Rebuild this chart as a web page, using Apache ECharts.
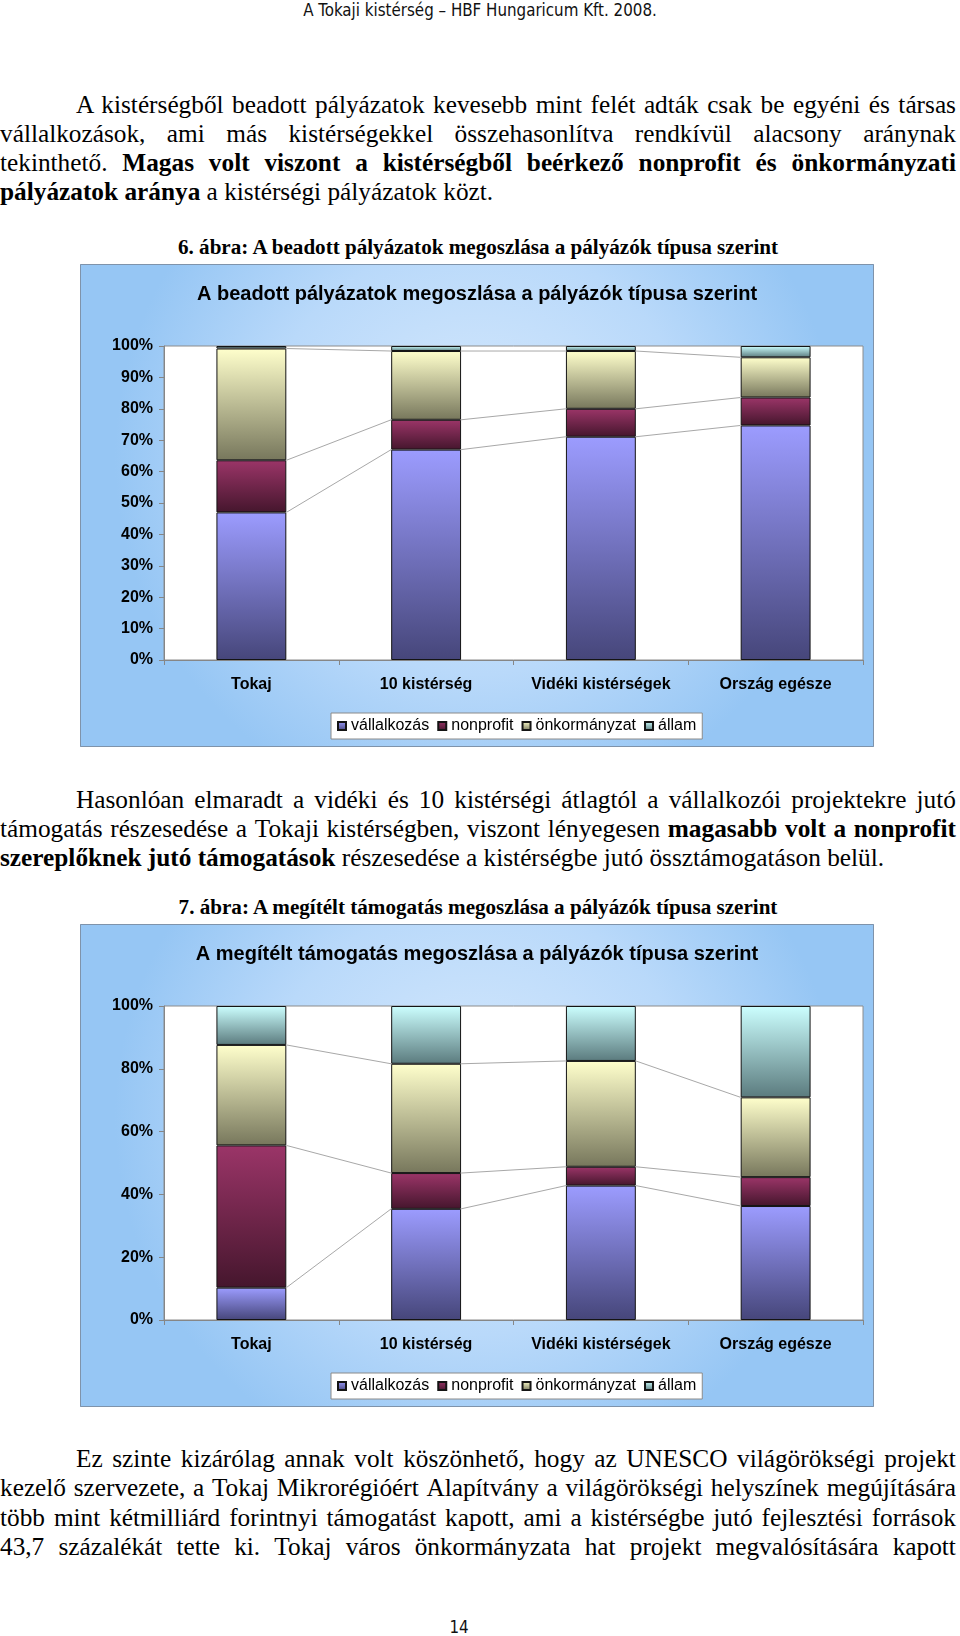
<!DOCTYPE html>
<html><head><meta charset="utf-8">
<script src="https://cdn.jsdelivr.net/npm/echarts/dist/echarts.min.js"></script>
<style>
html,body{margin:0;padding:0;background:#fff;}
#page{position:relative;width:960px;height:1636px;overflow:hidden;background:#fff;color:#000;}
.line{position:absolute;height:29.2px;line-height:29.2px;font-family:"Liberation Serif","Times New Roman",serif;font-size:25.3px;white-space:nowrap;}
.line span{white-space:pre;}
.cap{position:absolute;left:0;width:956px;text-align:center;font-family:"Liberation Serif","Times New Roman",serif;font-weight:bold;font-size:21.1px;height:26px;line-height:26px;white-space:nowrap;}
.hdr{position:absolute;left:0;width:960px;text-align:center;font-family:"DejaVu Sans Condensed","DejaVu Sans",sans-serif;font-size:16.8px;height:20px;line-height:20px;color:#111;white-space:nowrap;}
.chart{position:absolute;left:80px;width:794px;height:483px;}
</style>
</head><body>
<div id="page">
  <div class="hdr" id="hdr" style="top:0px;">A Tokaji kistérség – HBF Hungaricum Kft. 2008.</div>
  <div class="cap" style="top:234px;">6. ábra: A beadott pályázatok megoszlása a pályázók típusa szerint</div>
  <div class="chart" id="c1" style="top:264px;"></div>
  <div class="cap" style="top:894px;">7. ábra: A megítélt támogatás megoszlása a pályázók típusa szerint</div>
  <div class="chart" id="c2" style="top:924px;"></div>
  <div class="hdr" style="top:1617px;left:-21px;">14</div>
</div>
<script>
// ---------- chart data ----------
const categories = ['Tokaj', '10 kistérség', 'Vidéki kistérségek', 'Ország egésze'];
const seriesNames = ['vállalkozás', 'nonprofit', 'önkormányzat', 'állam'];

// 6. ábra – beadott pályázatok (%)
const beadottVallalkozas = [47.0, 67.0, 71.1, 74.7];
const beadottNonprofit   = [16.6, 9.5, 8.9, 8.9];
const beadottOnkormanyzat = [35.6, 21.9, 18.4, 12.8];
const beadottAllam       = [0.8, 1.6, 1.6, 3.6];

// 7. ábra – megítélt támogatás (%)
const megiteltVallalkozas = [10.3, 35.4, 42.8, 36.3];
const megiteltNonprofit   = [45.3, 11.4, 6.0, 9.2];
const megiteltOnkormanyzat = [32.0, 34.8, 33.7, 25.4];
const megiteltAllam       = [12.4, 18.4, 17.5, 29.1];

const chart1Title = 'A beadott pályázatok megoszlása a pályázók típusa szerint';
const chart2Title = 'A megítélt támogatás megoszlása a pályázók típusa szerint';
const chart1Interval = 10;
const chart2Interval = 20;

// ---------- text ----------
const LH = 29.2;
const textLines = [
  {y:104.3, indent:76, just:true, segs:[['A kistérségből beadott pályázatok kevesebb mint felét adták csak be egyéni és társas',0]]},
  {y:133.6, just:true, segs:[['vállalkozások, ami más kistérségekkel összehasonlítva rendkívül alacsony aránynak',0]]},
  {y:162.8, just:true, segs:[['tekinthető.',0],['Magas volt viszont a kistérségből beérkező nonprofit és önkormányzati',1]]},
  {y:192.0, segs:[['pályázatok aránya',1],[' a kistérségi pályázatok közt.',0]]},
  {y:799.3, indent:76, just:true, segs:[['Hasonlóan elmaradt a vidéki és 10 kistérségi átlagtól a vállalkozói projektekre jutó',0]]},
  {y:828.5, just:true, segs:[['támogatás részesedése a Tokaji kistérségben, viszont lényegesen',0],['magasabb volt a nonprofit',1]]},
  {y:857.7, segs:[['szereplőknek jutó támogatások',1],[' részesedése a kistérségbe jutó össztámogatáson belül.',0]]},
  {y:1458.8, indent:76, just:true, segs:[['Ez szinte kizárólag annak volt köszönhető, hogy az UNESCO világörökségi projekt',0]]},
  {y:1488.0, just:true, segs:[['kezelő szervezete, a Tokaj Mikrorégióért Alapítvány a világörökségi helyszínek megújítására',0]]},
  {y:1517.2, just:true, segs:[['több mint kétmilliárd forintnyi támogatást kapott, ami a kistérségbe jutó fejlesztési források',0]]},
  {y:1546.5, just:true, segs:[['43,7 százalékát tette ki. Tokaj város önkormányzata hat projekt megvalósítására kapott',0]]}
];

const page = document.getElementById('page');
function makeLine(def){
  const ind = def.indent || 0;
  const W = 956 - ind;
  const div = document.createElement('div');
  div.className = 'line';
  div.style.top = (def.y - LH/2) + 'px';
  div.style.left = ind + 'px';
  div.style.width = W + 'px';
  if (def.just){
    div.style.display = 'flex';
    div.style.justifyContent = 'space-between';
    const words = [];
    def.segs.forEach(([t,b]) => t.split(' ').filter(Boolean).forEach(w => words.push([w,b])));
    words.forEach(([w,b],k) => {
      const s = document.createElement('span');
      s.textContent = w + (k < words.length-1 ? ' ' : '');
      if (b) s.style.fontWeight = 'bold';
      div.appendChild(s);
    });
    page.appendChild(div);
    let sum = 0;
    [...div.children].forEach(c => sum += c.getBoundingClientRect().width);
    if (sum > W) div.style.fontSize = (25.3 * W / sum) + 'px';
  } else {
    def.segs.forEach(([t,b]) => {
      const s = document.createElement('span');
      s.textContent = t;
      if (b) s.style.fontWeight = 'bold';
      div.appendChild(s);
    });
    page.appendChild(div);
  }
}
textLines.forEach(makeLine);

// ---------- charts ----------
function grad(top, bottom){
  return {type:'linear', x:0, y:0, x2:0, y2:1, colorStops:[{offset:0,color:top},{offset:1,color:bottom}]};
}
const seriesColors = [
  grad('#9c9cff', '#46467a'),
  grad('#9b3568', '#45162d'),
  grad('#ffffcc', '#77775c'),
  grad('#ccffff', '#5b7b7e')
];

function buildOption(title, stacks, interval){
  const series = stacks.map((vals, s) => ({
    name: seriesNames[s],
    type: 'bar',
    stack: 'total',
    barWidth: '40%',
    data: vals,
    itemStyle: {color: seriesColors[s], borderColor: '#141414', borderWidth: 1},
    emphasis: {disabled: true},
    z: 3
  }));
  // series lines (Excel-style connectors between bars)
  const cum = [];
  let run = categories.map(() => 0);
  for (let s = 0; s < stacks.length - 1; s++){
    run = run.map((v,i) => v + stacks[s][i]);
    cum.push(run.slice());
  }
  const lineData = [];
  for (let i = 0; i < categories.length - 1; i++)
    for (let l = 0; l < cum.length; l++)
      lineData.push([i, cum[l][i], i+1, cum[l][i+1]]);
  series.push({
    type: 'custom',
    silent: true,
    z: 2,
    data: lineData,
    encode: {x: [0,2], y: [1,3]},
    renderItem: function(params, api){
      const p1 = api.coord([api.value(0), api.value(1)]);
      const p2 = api.coord([api.value(2), api.value(3)]);
      const hw = api.size([1, 0])[0] * 0.4 / 2;
      return {type:'line', shape:{x1:p1[0]+hw, y1:p1[1], x2:p2[0]-hw, y2:p2[1]},
              style:{stroke:'#a8a8a8', lineWidth:1}};
    }
  });
  return {
    animation: false,
    backgroundColor: {type:'radial', x:0.5, y:0.4, r:0.75,
      colorStops:[{offset:0,color:'#d8eafd'},{offset:0.6,color:'#b9d9fa'},{offset:1,color:'#96c6f4'}]},
    graphic: [{type:'rect', silent:true, z:-1,
      shape:{x:0.5, y:0.5, width:793, height:482},
      style:{fill:null, stroke:'#7f93aa', lineWidth:1}}],
    title: {
      text: title, left: 'center', top: 15,
      textStyle: {fontFamily:'Liberation Sans, Arial, sans-serif', fontWeight:'bold', fontSize:20, color:'#000'}
    },
    legend: {
      data: seriesNames,
      left: 251, top: 449,
      icon: 'rect', itemWidth: 8, itemHeight: 8, itemGap: 8,
      padding: [5, 6],
      backgroundColor: '#fff', borderColor: '#8a8a8a', borderWidth: 1,
      textStyle: {fontFamily:'Liberation Sans, Arial, sans-serif', fontSize:16, color:'#000'},
      selectedMode: false
    },
    grid: {left:84, top:82, width:699, height:314, show:true, backgroundColor:'#fff', borderColor:'#8c8c8c', borderWidth:1},
    xAxis: {
      type: 'category', data: categories,
      axisLine: {show:true, lineStyle:{color:'#868686'}},
      axisTick: {show:true, length:5, lineStyle:{color:'#868686'}},
      axisLabel: {interval:0, fontFamily:'Liberation Sans, Arial, sans-serif', fontWeight:'bold', fontSize:16, color:'#000', margin:17}
    },
    yAxis: {
      type: 'value', min: 0, max: 100, interval: interval,
      axisLine: {show:true, lineStyle:{color:'#868686'}},
      axisTick: {show:true, length:5, lineStyle:{color:'#868686'}},
      splitLine: {show:false},
      axisLabel: {formatter:'{value}%', fontFamily:'Liberation Sans, Arial, sans-serif', fontWeight:'bold', fontSize:16, color:'#000', margin:11}
    },
    series: series
  };
}

const c1 = echarts.init(document.getElementById('c1'), null, {renderer:'canvas'});
c1.setOption(buildOption(chart1Title, [beadottVallalkozas, beadottNonprofit, beadottOnkormanyzat, beadottAllam], chart1Interval));
const c2 = echarts.init(document.getElementById('c2'), null, {renderer:'canvas'});
c2.setOption(buildOption(chart2Title, [megiteltVallalkozas, megiteltNonprofit, megiteltOnkormanyzat, megiteltAllam], chart2Interval));
</script>
</body></html>
